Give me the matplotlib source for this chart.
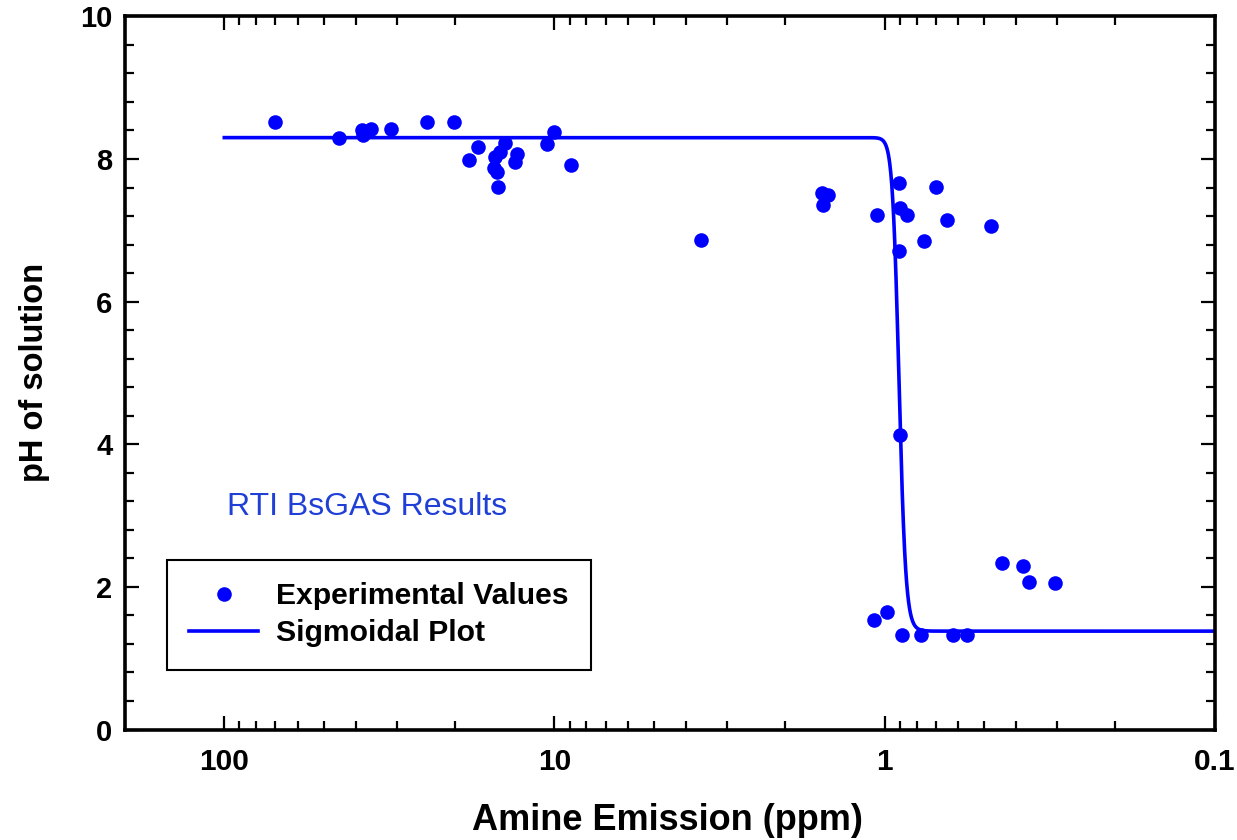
"""pH of solution vs amine emission, RTI BsGAS results with sigmoidal fit."""

import matplotlib

matplotlib.use("Agg")
import matplotlib.pyplot as plt
import numpy as np
from matplotlib.ticker import FixedLocator, LogLocator, NullFormatter

amine_ppm = [
    70.2, 45.0, 38.3, 38.0, 36.0, 31.3, 24.4, 20.2, 18.1, 17.1,
    14.1, 14.6, 15.1, 15.2, 14.9, 14.8, 13.0, 13.2, 10.0, 10.5,
    8.94, 3.59, 1.547, 1.483, 1.54, 1.054, 0.904, 0.901, 0.855, 0.904,
    0.699, 0.760, 0.647, 0.476, 0.901, 1.077, 0.983, 0.886, 0.775, 0.621,
    0.563, 0.441, 0.381, 0.366, 0.305,
]
ph_values = [
    8.52, 8.30, 8.41, 8.34, 8.42, 8.42, 8.52, 8.52, 7.99, 8.17,
    8.22, 8.10, 8.03, 7.87, 7.82, 7.61, 8.07, 7.96, 8.38, 8.21,
    7.92, 6.87, 7.52, 7.50, 7.36, 7.22, 7.66, 7.31, 7.22, 6.71,
    7.61, 6.85, 7.15, 7.06, 4.13, 1.53, 1.65, 1.33, 1.33, 1.33,
    1.33, 2.34, 2.29, 2.07, 2.05,
]

# sigmoidal fit parameters (linear in ppm)
ph_top = 8.30
ph_bottom = 1.38
x_mid = 0.904
x_width = 0.021
fit_range = (100.0, 0.1)

x_ticks = [100, 10, 1, 0.1]
x_tick_labels = ["100", "10", "1", "0.1"]
y_ticks = [0, 2, 4, 6, 8, 10]

BLUE = "#0000ff"

plt.rcParams["font.family"] = ["Liberation Sans", "DejaVu Sans"]

fig = plt.figure(figsize=(12.37, 8.40), dpi=100)
ax = fig.add_axes([0.101, 0.1315, 0.881, 0.849])

fit_x = np.logspace(np.log10(fit_range[0]), np.log10(fit_range[1]), 4000)
fit_y = ph_bottom + (ph_top - ph_bottom) / (1 + np.exp(-(fit_x - x_mid) / x_width))

ax.plot(amine_ppm, ph_values, "o", color=BLUE, markersize=10.5,
        markeredgewidth=0, label="Experimental Values", zorder=3)
ax.plot(fit_x, fit_y, "-", color=BLUE, linewidth=2.6,
        label="Sigmoidal Plot", zorder=2)

ax.set_xscale("log")
ax.set_xlim(200, 0.1)
ax.set_ylim(0, 10)

ax.xaxis.set_major_locator(FixedLocator(x_ticks))
ax.set_xticklabels(x_tick_labels)
ax.xaxis.set_minor_locator(LogLocator(base=10, subs=np.arange(2, 10), numticks=20))
ax.xaxis.set_minor_formatter(NullFormatter())
ax.set_yticks(y_ticks)
ax.set_yticks(np.arange(0, 10.01, 0.4), minor=True)

for side in ax.spines.values():
    side.set_linewidth(2.6)

ax.tick_params(which="both", direction="in", top=True, right=True, width=1.6)
ax.tick_params(which="major", length=10)
ax.tick_params(which="minor", length=6.5)
ax.tick_params(axis="x", which="major", pad=13, labelsize=21.5)
ax.tick_params(axis="y", which="major", pad=9, labelsize=21)
for lbl in ax.get_xticklabels() + ax.get_yticklabels():
    lbl.set_fontweight("bold")

ax.set_xlabel("Amine Emission (ppm)", fontsize=26, fontweight="bold")
ax.set_ylabel("pH of solution", fontsize=23.5, fontweight="bold")
ax.xaxis.set_label_coords(0.498, -0.103)
ax.yaxis.set_label_coords(-0.069, 0.501)

ax.text(0.222, 0.312, "RTI BsGAS Results", transform=ax.transAxes,
        ha="center", va="center", fontsize=23, color="#1f3fd6")

leg = ax.legend(loc="upper left", bbox_to_anchor=(0.0385, 0.2381),
                prop={"weight": "bold", "size": 21.7}, frameon=True,
                fancybox=False, edgecolor="black", framealpha=1,
                handlelength=2.27, handletextpad=0.6, borderpad=0.75,
                labelspacing=0.3, borderaxespad=0)
leg.get_frame().set_linewidth(1.5)

fig.savefig("out.png", dpi=100)
